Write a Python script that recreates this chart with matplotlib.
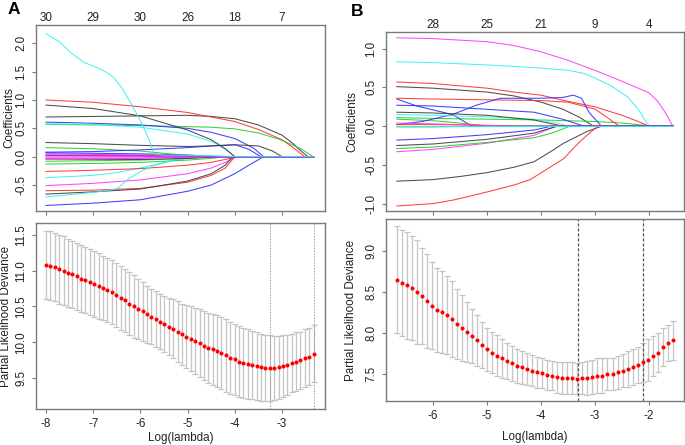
import numpy as np
import matplotlib.pyplot as plt

plt.rcParams['font.family'] = ['Liberation Sans', 'DejaVu Sans']

# ---------------- panel A : cross-validation curve ----------------
a_loglam = np.linspace(-8.0, -2.33, 62)
a_cvm = [11.08, 11.07, 11.05, 11.02, 11.00, 10.97, 10.95, 10.92, 10.89, 10.87,
         10.84, 10.81, 10.79, 10.76, 10.73, 10.70, 10.66, 10.62, 10.59, 10.54,
         10.50, 10.47, 10.43, 10.39, 10.36, 10.32, 10.29, 10.26, 10.22, 10.19,
         10.15, 10.11, 10.08, 10.05, 10.02, 9.99, 9.95, 9.92, 9.90, 9.88,
         9.85, 9.82, 9.78, 9.76, 9.73, 9.71, 9.70, 9.68, 9.67, 9.65,
         9.64, 9.64, 9.64, 9.65, 9.67, 9.68, 9.71, 9.73, 9.75, 9.78,
         9.80, 9.84]
a_cvsd = [0.48, 0.48, 0.48, 0.48, 0.48, 0.48, 0.47, 0.47, 0.47, 0.46,
          0.46, 0.46, 0.46, 0.45, 0.45, 0.45, 0.45, 0.45, 0.44, 0.44,
          0.44, 0.42, 0.41, 0.40, 0.39, 0.39, 0.39, 0.39, 0.40, 0.41,
          0.42, 0.43, 0.44, 0.45, 0.46, 0.47, 0.48, 0.49, 0.50, 0.50,
          0.51, 0.51, 0.51, 0.50, 0.50, 0.49, 0.49, 0.48, 0.48, 0.47,
          0.46, 0.46, 0.45, 0.44, 0.43, 0.42, 0.41, 0.41, 0.40, 0.40,
          0.40, 0.40]
a_lam_min = -3.26
a_lam_1se = -2.33
a_ticks = [-8, -7, -6, -5, -4, -3]
a_nonzero = [30, 29, 30, 26, 18, 7]

# panel A coefficient paths: colour, log(lambda) knots, coefficient
a_paths = [
    ("black", [-8, -7, -6, -5, -4.5, -4, -3.5, -3, -2.75, -2.6, -2.45],
     [0.70, 0.71, 0.72, 0.73, 0.71, 0.67, 0.56, 0.38, 0.22, 0.10, 0.0]),
    ("red", [-8, -7, -6, -5, -4.5, -4, -3.5, -3, -2.75, -2.52],
     [1.00, 0.96, 0.88, 0.78, 0.70, 0.62, 0.48, 0.30, 0.15, 0.0]),
    ("green3", [-8, -7, -6, -5, -4.5, -4, -3.5, -3, -2.6, -2.34],
     [0.57, 0.56, 0.55, 0.53, 0.52, 0.49, 0.42, 0.29, 0.14, 0.0]),
    ("blue", [-8, -7, -6, -5, -4.5, -4, -3.6, -3.39],
     [0.61, 0.59, 0.56, 0.50, 0.43, 0.32, 0.15, 0.0]),
    ("cyan", [-8, -7, -6, -5, -4.5, -4.2, -4.0],
     [0.58, 0.57, 0.52, 0.40, 0.27, 0.13, 0.0]),
    ("magenta", [-8, -7, -6, -5, -4.5, -4.2, -3.95],
     [-0.51, -0.47, -0.41, -0.30, -0.20, -0.10, 0.0]),
    ("black", [-8, -7, -6, -5, -4.5, -4.2, -4.0],
     [0.91, 0.85, 0.72, 0.47, 0.30, 0.14, 0.0]),
    ("red", [-8, -7, -6, -5, -4.5, -4.2, -4.0],
     [-0.60, -0.59, -0.56, -0.45, -0.33, -0.20, 0.0]),
    ("green3", [-8, -7, -6, -5.5, -5.0, -4.5],
     [0.16, 0.14, 0.10, 0.06, 0.02, 0.0]),
    ("blue", [-8, -7, -6, -5, -4.5, -4, -3.7, -3.39],
     [-0.86, -0.82, -0.76, -0.61, -0.50, -0.30, -0.15, 0.0]),
    ("cyan", [-8, -7, -6.5, -6, -5.5, -5, -4.8],
     [-0.37, -0.33, -0.28, -0.20, -0.10, -0.03, 0.0]),
    ("magenta", [-8, -6, -5, -4.5], [0.05, 0.03, 0.01, 0.0]),
    ("black", [-8, -7, -6, -5, -4.5, -4.2, -4.05],
     [-0.66, -0.62, -0.57, -0.43, -0.30, -0.15, 0.0]),
    ("red", [-8, -7, -6, -5, -4.5, -4.1, -3.9],
     [-0.26, -0.24, -0.21, -0.15, -0.10, -0.03, 0.0]),
    ("green3", [-8, -7, -6, -5, -4.5, -4.2],
     [-0.13, -0.12, -0.10, -0.06, -0.03, 0.0]),
    ("blue", [-8, -7, -6, -5, -4.5, -4, -3.7, -3.45],
     [0.08, 0.09, 0.12, 0.16, 0.19, 0.21, 0.13, 0.0]),
    ("cyan", [-8, -7, -6.5, -6.28, -6, -5.72, -5.3, -5.0],
     [-0.71, -0.63, -0.57, -0.41, -0.26, -0.16, -0.06, 0.0]),
    ("magenta", [-8, -6, -5, -4.6], [-0.02, -0.02, -0.01, 0.0]),
    ("black", [-8, -7, -6, -5, -4.5, -4, -3.5, -3.2, -3.0],
     [0.25, 0.23, 0.20, 0.18, 0.19, 0.21, 0.19, 0.10, 0.0]),
    ("red", [-8, -6, -5, -4.5], [0.03, 0.02, 0.01, 0.0]),
    ("green3", [-8, -6, -5, -4.5], [-0.08, -0.06, -0.03, 0.0]),
    ("blue", [-8, -6, -5.5], [0.02, 0.01, 0.0]),
    ("black", [-8, -6, -5, -4.3], [-0.04, -0.05, -0.03, 0.0]),
    ("magenta", [-8, -6, -5, -4.8], [-0.04, -0.03, -0.01, 0.0]),
    ("blue", [-8, -6, -5, -4.4], [0.07, 0.05, 0.03, 0.0]),
    ("magenta", [-8, -6, -5.2], [0.01, 0.01, 0.0]),
    ("cyan", [-8, -7.72, -7.47, -7.19, -6.91, -6.7, -6.56, -6.38, -6.2,
              -5.99, -5.81, -5.72, -5.5, -4.5, -4.0],
     [2.17, 2.03, 1.83, 1.66, 1.57, 1.48, 1.39, 1.20, 0.94,
      0.62, 0.29, 0.05, 0.03, 0.02, 0.0]),
]

# ---------------- panel B : cross-validation curve ----------------
b_loglam = np.linspace(-6.67, -1.56, 56)
b_cvm = [8.65, 8.61, 8.58, 8.55, 8.50, 8.45, 8.39, 8.33, 8.28, 8.25,
         8.22, 8.17, 8.11, 8.06, 8.01, 7.96, 7.91, 7.85, 7.80, 7.76,
         7.72, 7.69, 7.66, 7.63, 7.60, 7.58, 7.56, 7.54, 7.52, 7.51,
         7.49, 7.48, 7.46, 7.45, 7.45, 7.45, 7.44, 7.45, 7.45, 7.46,
         7.48, 7.48, 7.50, 7.50, 7.52, 7.54, 7.56, 7.58, 7.61, 7.64,
         7.67, 7.72, 7.76, 7.83, 7.88, 7.91]
b_cvsd = [0.65, 0.65, 0.65, 0.63, 0.63, 0.59, 0.57, 0.53, 0.51, 0.50,
          0.48, 0.46, 0.43, 0.40, 0.37, 0.33, 0.31, 0.28, 0.26, 0.25,
          0.25, 0.24, 0.22, 0.21, 0.21, 0.20, 0.19, 0.19, 0.19, 0.18,
          0.18, 0.18, 0.19, 0.19, 0.19, 0.19, 0.19, 0.20, 0.21, 0.21,
          0.21, 0.21, 0.20, 0.20, 0.20, 0.20, 0.22, 0.22, 0.22, 0.24,
          0.26, 0.24, 0.24, 0.23, 0.22, 0.24]
b_lam_min = -3.31
b_lam_1se = -2.11
b_ticks = [-6, -5, -4, -3, -2]
b_nonzero = [28, 25, 21, 9, 4]

b_paths = [
    ("black", [-6.67, -6, -5, -4.5, -4, -3.6, -3.3, -3.03],
     [0.51, 0.49, 0.44, 0.39, 0.31, 0.22, 0.12, 0.0]),
    ("red", [-6.67, -6, -5, -4.5, -4, -3.5, -3, -2.5, -2.2, -2.0],
     [0.57, 0.55, 0.49, 0.44, 0.40, 0.32, 0.25, 0.14, 0.06, 0.0]),
    ("green3", [-6.67, -6, -5, -4, -3, -2.5, -2.2, -1.95],
     [0.11, 0.10, 0.09, 0.08, 0.06, 0.04, 0.02, 0.0]),
    ("blue", [-6.67, -6.3, -5.64, -5.3, -5.2],
     [0.35, 0.26, 0.15, 0.01, 0.0]),
    ("cyan", [-6.67, -6, -5, -4, -3.5, -3.2, -3, -2.7, -2.4, -2.2, -2.04, -1.98],
     [0.83, 0.82, 0.79, 0.75, 0.72, 0.68, 0.62, 0.52, 0.38, 0.22, 0.04, 0.0]),
    ("magenta", [-6.67, -6, -5, -4.5, -4, -3.5, -3, -2.5, -2.0, -1.85, -1.7, -1.56],
     [1.14, 1.13, 1.09, 1.04, 0.96, 0.85, 0.72, 0.58, 0.43, 0.33, 0.18, 0.0]),
    ("black", [-6.67, -6, -5.5, -5, -4.5, -4.13, -3.8, -3.58, -3.15, -2.88],
     [-0.71, -0.69, -0.65, -0.60, -0.53, -0.46, -0.32, -0.22, -0.07, 0.0]),
    ("red", [-6.67, -6, -5, -4, -3.5, -3, -2.75, -2.55],
     [0.36, 0.35, 0.34, 0.33, 0.31, 0.22, 0.10, 0.0]),
    ("green3", [-6.67, -6, -5.5, -5], [0.09, 0.07, 0.04, 0.0]),
    ("blue", [-6.67, -6.2, -5.64, -5.2, -4.75, -4, -3.6, -3.4, -3.25, -3.1, -2.88],
     [0.02, 0.06, 0.15, 0.27, 0.36, 0.36, 0.37, 0.40, 0.36, 0.17, 0.0]),
    ("cyan", [-6.67, -6, -5, -4.13, -3.7, -3.5],
     [0.15, 0.14, 0.12, 0.09, 0.04, 0.0]),
    ("magenta", [-6.67, -6, -5, -4.13, -3.9, -3.7],
     [-0.33, -0.30, -0.22, -0.12, -0.05, 0.0]),
    ("black", [-6.67, -6, -5, -4.13, -3.8, -3.6],
     [0.18, 0.17, 0.14, 0.08, 0.03, 0.0]),
    ("red", [-6.67, -6, -5.6, -5, -4.5, -4.2, -3.9, -3.58, -3.28, -3.0, -2.88],
     [-1.03, -1.00, -0.95, -0.85, -0.76, -0.69, -0.56, -0.42, -0.20, -0.03, 0.0]),
    ("green3", [-6.67, -6, -5, -4.13, -3.8, -3.46],
     [-0.29, -0.27, -0.21, -0.15, -0.09, 0.0]),
    ("blue", [-6.67, -6, -5, -4.13, -3.8],
     [-0.18, -0.16, -0.11, -0.05, 0.0]),
    ("black", [-6.67, -6, -5, -4.13, -3.7],
     [-0.25, -0.23, -0.17, -0.09, 0.0]),
    ("red", [-6.67, -6, -5, -4.3], [0.02, 0.02, 0.01, 0.0]),
    ("green3", [-6.67, -6, -5], [-0.01, -0.01, 0.0]),
    ("blue", [-6.67, -6, -4.13, -3.6, -3.2],
     [0.27, 0.26, 0.18, 0.09, 0.0]),
    ("magenta", [-6.67, -6, -5, -4.6], [0.04, 0.03, 0.01, 0.0]),
    ("cyan", [-6.67, -6, -5], [0.0, 0.0, 0.0]),
]

rcol = {"black": "#3a3a3a", "red": "#ff2a2a", "green3": "#22cc22",
        "blue": "#2a2aff", "cyan": "#33f0f0", "magenta": "#ff33ff"}
frame_col = "#7a7a7a"
fs = 8.4

W, H = 685, 445
fig = plt.figure(figsize=(W / 100, H / 100), dpi=100)


def box(l, t, r, b):
    return [l / W, 1 - b / H, (r - l) / W, (b - t) / H]


def style(ax):
    for s in ax.spines.values():
        s.set_color(frame_col)
        s.set_linewidth(1.0)
    ax.tick_params(direction='out', length=3.2, width=0.8, color=frame_col,
                   labelsize=fs, labelcolor='#222222', pad=3)
    ax.tick_params(axis='y', labelrotation=90)
    for lab in ax.get_yticklabels():
        lab.set_va('center')


def coef_panel(ax, paths, ticks, nonzero, xlim, ylim, yticks, xend):
    for col, xs, ys in paths:
        xs = list(xs) + [xend]
        ys = list(ys) + [0.0]
        ax.plot(xs, ys, color=rcol[col], lw=0.75, alpha=0.9)
    ax.set_xlim(*xlim)
    ax.set_ylim(*ylim)
    ax.set_xticks(ticks)
    ax.set_xticklabels([str(n) for n in nonzero])
    ax.set_yticks(yticks)
    ax.set_yticklabels([f"{v:.1f}" for v in yticks])
    style(ax)
    # counts of non-zero coefficients along the top, no tick marks there
    ax.tick_params(axis='x', top=False, labeltop=True, bottom=True,
                   labelbottom=False, pad=-2.6)
    ax.set_ylabel("Coefficients", fontsize=fs, color='#222222')


def cv_panel(ax, x, m, sd, lmin, l1se, xlim, ylim, ticks, yticks, vstyle):
    ax.errorbar(x, m, yerr=sd, fmt='none', ecolor='#c4c4c4', elinewidth=0.9,
                capsize=1.9, capthick=0.9, zorder=1)
    ax.plot(x, m, 'o', color='#ff0000', ms=2.9, mec='none', zorder=3)
    for v in (lmin, l1se):
        ax.axvline(v, **vstyle, zorder=2)
    ax.set_xlim(*xlim)
    ax.set_ylim(*ylim)
    ax.set_xticks(ticks)
    ax.set_xticklabels([str(t) for t in ticks])
    ax.set_yticks(yticks)
    ax.set_yticklabels([f"{v:.1f}" for v in yticks])
    style(ax)
    ax.set_xlabel("Log(lambda)", fontsize=fs, color='#222222')
    ax.set_ylabel("Partial Likelihood Deviance", fontsize=fs,
                  color='#222222')


# panel A
axA1 = fig.add_axes(box(36, 25, 325, 211))
coef_panel(axA1, a_paths, a_ticks, a_nonzero, (-8.212, -2.089),
           (-0.958, 2.323), [-0.5, 0.0, 0.5, 1.0, 1.5, 2.0], a_loglam[-1])
axA1.yaxis.set_label_coords(-0.072, 0.5)

axA2 = fig.add_axes(box(36, 223, 325, 409))
cv_panel(axA2, a_loglam, a_cvm, a_cvsd, a_lam_min, a_lam_1se,
         (-8.212, -2.089), (9.066, 11.668), a_ticks,
         [9.5, 10.0, 10.5, 11.0, 11.5],
         dict(color='#9a9a9a', lw=0.7, ls=(0, (1.5, 1.5))))
axA2.yaxis.set_label_coords(-0.082, 0.5)
axA2.xaxis.set_label_coords(0.5, -0.125)

# panel B
axB1 = fig.add_axes(box(386, 32, 683.5, 211))
coef_panel(axB1, b_paths, b_ticks, b_nonzero, (-6.87, -1.36),
           (-1.095, 1.215), [-1.0, -0.5, 0.0, 0.5, 1.0], b_loglam[-1])
axB1.yaxis.set_label_coords(-0.094, 0.5)

axB2 = fig.add_axes(box(386, 219, 683.5, 401))
cv_panel(axB2, b_loglam, b_cvm, b_cvsd, b_lam_min, b_lam_1se,
         (-6.87, -1.36), (7.17, 9.39), b_ticks, [7.5, 8.0, 8.5, 9.0],
         dict(color='#555555', lw=0.9, ls=(0, (2.5, 1.5))))
axB2.yaxis.set_label_coords(-0.097, 0.5)
axB2.xaxis.set_label_coords(0.5, -0.165)

fig.text(8 / W, 1 - 10 / H, "A", fontsize=12.5, fontweight='bold',
         va='center', ha='left')
fig.text(351 / W, 1 - 12 / H, "B", fontsize=12.5, fontweight='bold',
         va='center', ha='left')

fig.savefig("out.png", dpi=100)
